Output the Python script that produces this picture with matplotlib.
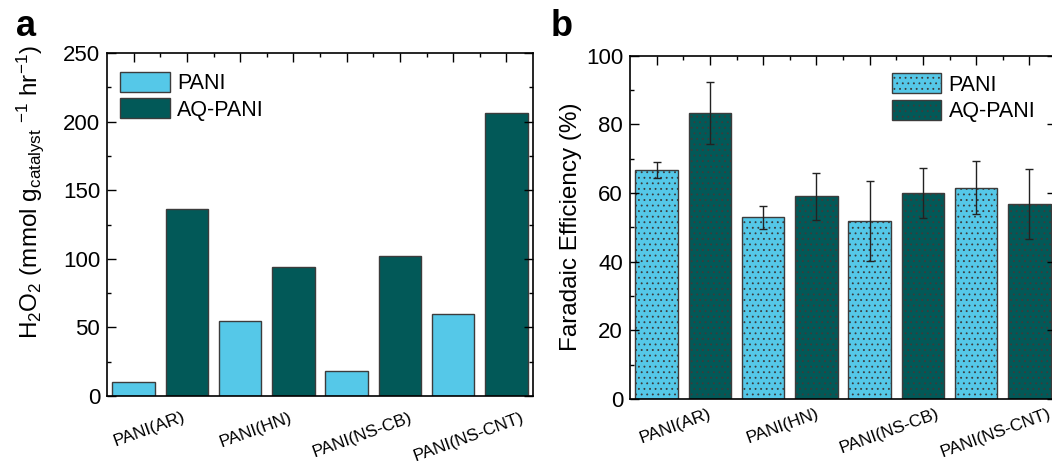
import numpy as np
import matplotlib
matplotlib.use("Agg")
import matplotlib.pyplot as plt
from matplotlib.ticker import MultipleLocator, FixedLocator
from matplotlib.transforms import blended_transform_factory

plt.rcParams['font.family'] = ['Liberation Sans', 'DejaVu Sans']
plt.rcParams['mathtext.default'] = 'regular'
plt.rcParams['hatch.linewidth'] = 0.6

# ---- data ----
samples = ["PANI(AR)", "PANI(HN)", "PANI(NS-CB)", "PANI(NS-CNT)"]
series = ["PANI", "AQ-PANI"]

h2o2_pani = [10, 54.5, 18.5, 59.5]
h2o2_aq = [136, 94, 102, 206]

fe_pani = [66.8, 52.9, 51.8, 61.6]
fe_pani_err = [2.3, 3.3, 11.7, 7.8]
fe_aq = [83.3, 59.0, 59.9, 56.7]
fe_aq_err = [9.0, 6.9, 7.3, 10.2]

c_light = '#55C8E8'
c_dark = '#025958'
edge = '#3c3c3c'

fig = plt.figure(figsize=(10.52, 4.63), dpi=100)
W, H = 1052, 463


def axes_px(left, top, right, bottom):
    return fig.add_axes([left / W, 1 - bottom / H, (right - left) / W, (bottom - top) / H])


ax_a = axes_px(107, 53, 533, 396)
ax_b = axes_px(630, 55.7, 1056, 399)

n = len(samples)
x_light = np.arange(n) * 2 + 1
x_dark = x_light + 1
bw = 0.8


def style_axes(ax, ymax, major, minor, label_shift, label_y):
    ax.set_xlim(0.5, 2 * n + 0.5)
    ax.set_ylim(0, ymax)
    ax.yaxis.set_major_locator(MultipleLocator(major))
    ax.yaxis.set_minor_locator(MultipleLocator(minor))
    ax.xaxis.set_major_locator(FixedLocator(np.arange(1, 2 * n + 1)))
    ax.xaxis.set_minor_locator(FixedLocator(np.arange(1.5, 2 * n, 1.0)))
    ax.tick_params(axis='both', which='both', direction='in', width=1.0)
    ax.tick_params(axis='both', which='major', length=6.5)
    ax.tick_params(axis='both', which='minor', length=3.2)
    ax.tick_params(axis='x', which='both', bottom=False, top=True, labelbottom=False)
    ax.tick_params(axis='y', which='both', left=True, right=True, labelsize=16, pad=5)
    for s in ax.spines.values():
        s.set_linewidth(1.2)
    trans = blended_transform_factory(ax.transData, ax.transAxes)
    for i, name in enumerate(samples):
        xc = (x_light[i] + x_dark[i]) / 2 + label_shift
        ax.text(xc, label_y, name, rotation=20, ha='center', va='top',
                fontsize=12.5, transform=trans)


# ---- panel a ----
style_axes(ax_a, 250, 50, 25, -0.2, -0.04)
ax_a.bar(x_light, h2o2_pani, bw, color=c_light, edgecolor=edge, linewidth=1.0, label=series[0])
ax_a.bar(x_dark, h2o2_aq, bw, color=c_dark, edgecolor=edge, linewidth=1.0, label=series[1])
ax_a.legend(loc='upper left', bbox_to_anchor=(0.0305, 0.9455), frameon=False,
            fontsize=15.5, handlelength=2.3, handleheight=1.05, labelspacing=0.2,
            handletextpad=0.35, borderpad=0, borderaxespad=0)

# ---- panel b ----
style_axes(ax_b, 100, 20, 10, -0.14, -0.02)
ax_b.bar(x_light, fe_pani, bw, color=c_light, edgecolor=edge, linewidth=1.0,
         hatch='...', label=series[0])
ax_b.bar(x_dark, fe_aq, bw, color=c_dark, edgecolor=edge, linewidth=1.0,
         hatch='...', label=series[1])
ax_b.errorbar(x_light, fe_pani, yerr=fe_pani_err, fmt='none', ecolor='#222222',
              elinewidth=1.0, capsize=3.2, capthick=1.0)
ax_b.errorbar(x_dark, fe_aq, yerr=fe_aq_err, fmt='none', ecolor='#222222',
              elinewidth=1.0, capsize=3.2, capthick=1.0)
ax_b.legend(loc='upper left', bbox_to_anchor=(0.614, 0.9487), frameon=False,
            fontsize=15.5, handlelength=2.3, handleheight=1.05, labelspacing=0.2,
            handletextpad=0.35, borderpad=0, borderaxespad=0)

# ---- axis titles and panel letters ----
fig.text(30 / W, 1 - 192 / H,
         r'H$_2$O$_2$ (mmol g$_{catalyst}$ $^{-1}$ hr$^{-1}$)',
         rotation=90, ha='center', va='center', fontsize=17.5)
fig.text(571 / W, 1 - 227 / H, 'Faradaic Efficiency (%)',
         rotation=90, ha='center', va='center', fontsize=17.5)
fig.text(16 / W, 1 - 36 / H, 'a', fontsize=26, fontweight='bold', ha='left', va='baseline')
fig.text(551 / W, 1 - 36 / H, 'b', fontsize=26, fontweight='bold', ha='left', va='baseline')

fig.savefig('out.png', dpi=100)
